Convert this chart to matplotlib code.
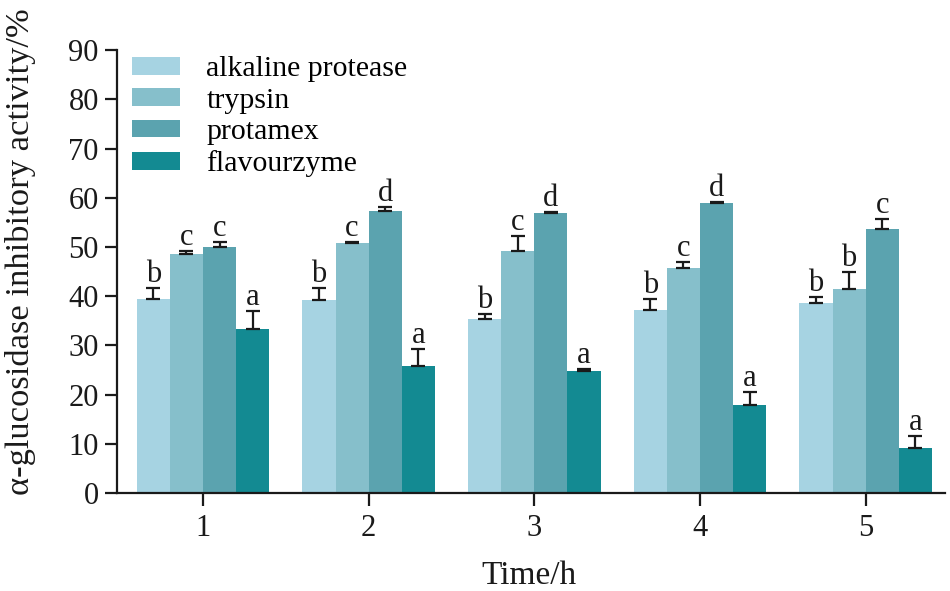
import numpy as np
import matplotlib.pyplot as plt

plt.rcParams['font.family'] = ['Liberation Serif', 'DejaVu Serif']

times = [1, 2, 3, 4, 5]
enzymes = ['alkaline protease', 'trypsin', 'protamex', 'flavourzyme']
colors = ['#A6D3E2', '#86BFCB', '#5BA3AF', '#138A92']

alkaline = [39.4, 39.2, 35.4, 37.2, 38.6]
trypsin = [48.6, 50.8, 49.2, 45.7, 41.5]
protamex = [50.0, 57.3, 56.9, 58.9, 53.7]
flavourzyme = [33.3, 25.8, 24.8, 17.9, 9.1]

err_alkaline = [2.2, 2.5, 1.0, 2.2, 1.3]
err_trypsin = [0.6, 0.3, 3.0, 1.3, 3.4]
err_protamex = [1.0, 0.8, 0.2, 0.2, 2.0]
err_flavourzyme = [3.7, 3.5, 0.4, 2.6, 2.5]

letters_alkaline = ['b', 'b', 'b', 'b', 'b']
letters_trypsin = ['c', 'c', 'c', 'c', 'b']
letters_protamex = ['c', 'd', 'd', 'd', 'c']
letters_flavourzyme = ['a', 'a', 'a', 'a', 'a']

values = [alkaline, trypsin, protamex, flavourzyme]
errors = [err_alkaline, err_trypsin, err_protamex, err_flavourzyme]
letters = [letters_alkaline, letters_trypsin, letters_protamex, letters_flavourzyme]

fig = plt.figure(figsize=(9.5, 5.91), dpi=100)
ax = fig.add_axes([0.123, 0.166, 0.872, 0.749])

x = np.array(times, dtype=float)
w = 0.2
for i in range(4):
    pos = x + (i - 1.5) * w
    v = np.array(values[i])
    e = np.array(errors[i])
    ax.bar(pos, v, width=w, color=colors[i], label=enzymes[i], zorder=2)
    ax.errorbar(pos, v, yerr=[np.zeros_like(e), e], fmt='none', ecolor='#1a1a1a',
                elinewidth=1.6, capsize=5, capthick=1.6, zorder=3)
    for p, top, lab in zip(pos, v + e, letters[i]):
        ax.text(p, top + 1.2, lab, ha='center', va='baseline', fontsize=22, color='#1a1a1a')

ax.set_xlim(0.48, 5.48)
ax.set_ylim(0, 90)
ax.set_yticks(range(0, 91, 10))
ax.set_xticks(times)
ax.spines['top'].set_visible(False)
ax.spines['right'].set_visible(False)
for s in ['left', 'bottom']:
    ax.spines[s].set_linewidth(1.6)
    ax.spines[s].set_color('#1a1a1a')
ax.tick_params(axis='both', direction='out', length=9, width=1.6, labelsize=22, colors='#1a1a1a')
ax.tick_params(axis='x', pad=6)
ax.tick_params(axis='y', pad=4)

ax.set_xlabel('Time/h', fontsize=24, color='#1a1a1a')
ax.set_ylabel('α-glucosidase inhibitory activity/%', fontsize=24.8, color='#1a1a1a')
ax.xaxis.set_label_coords(0.498, -0.152)
ax.yaxis.set_label_coords(-0.097, 0.545)

ax.legend(loc='upper left', bbox_to_anchor=(0.0, 1.02), frameon=False, fontsize=21.5,
          handlelength=1.6, handleheight=0.55, handletextpad=0.9, labelspacing=0.18,
          borderaxespad=0.3, borderpad=0.2)

fig.savefig('out.png', dpi=100)
